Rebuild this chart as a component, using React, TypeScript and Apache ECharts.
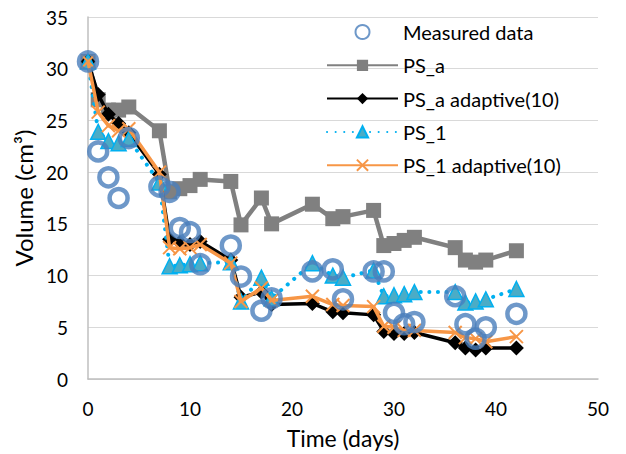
import React, { useEffect, useRef } from "react";
import * as echarts from "echarts";

const days = [0, 1, 2, 3, 4, 7, 8, 9, 10, 11, 14, 15, 17, 18, 22, 24, 25, 28, 29, 30, 31, 32, 36, 37, 38, 39, 42];
const measured = [30.7, 22.0, 19.5, 17.5, 23.3, 18.6, 18.1, 14.6, 14.2, 11.1, 12.9, 9.9, 6.6, 7.8, 10.4, 10.6, 7.7, 10.4, 10.4, 6.4, 5.3, 5.5, 8.0, 5.3, 3.9, 5.0, 6.3];
const psA = [30.7, 27.0, 26.0, 26.0, 26.3, 24.0, 18.1, 18.4, 18.7, 19.3, 19.1, 14.9, 17.5, 15.0, 16.9, 15.5, 15.7, 16.3, 12.9, 13.1, 13.4, 13.7, 12.7, 11.5, 11.3, 11.5, 12.4];
const psAAdaptive = [30.7, 27.5, 25.6, 24.7, 23.8, 19.8, 13.5, 13.2, 13.0, 13.3, 11.5, 7.9, 8.4, 7.2, 7.3, 6.5, 6.4, 6.2, 4.6, 4.4, 4.4, 4.5, 3.5, 3.0, 2.8, 3.0, 3.0];
const ps1 = [30.7, 23.9, 23.0, 22.8, 23.2, 19.0, 10.9, 11.0, 11.1, 11.2, 11.3, 7.5, 9.8, 7.8, 11.2, 10.0, 9.8, 10.5, 8.0, 8.1, 8.2, 8.4, 8.4, 7.4, 7.5, 7.7, 8.7];
const ps1Adaptive = [30.7, 25.8, 24.5, 24.0, 24.2, 20.0, 12.7, 12.6, 12.7, 13.0, 11.2, 7.5, 8.8, 7.6, 8.0, 7.2, 7.1, 7.0, 5.1, 5.0, 4.7, 4.7, 4.5, 4.0, 3.9, 3.6, 4.1];

const seriesNames = ["Measured data", "PS_a", "PS_a adaptive(10)", "PS_1", "PS_1 adaptive(10)"];
const xTicks = { min: 0, max: 50, interval: 10 };
const yTicks = { min: 0, max: 35, interval: 5 };

const pair = (vals: number[]) => days.map((d, i) => [d, vals[i]]);

const FONT = "Lato, 'Open Sans', sans-serif";

export default function App() {
  const ref = useRef<HTMLDivElement>(null);
  useEffect(() => {
    if (!ref.current) return;
    const chart = echarts.init(ref.current, null, { renderer: "svg" });
    chart.setOption({
      animation: false,
      backgroundColor: "#ffffff",
      textStyle: { fontFamily: FONT },
      grid: { left: 88, right: 28, top: 17, bottom: 74, containLabel: false },
      legend: {
        orient: "vertical",
        left: 321,
        top: 17,
        itemWidth: 71,
        itemHeight: 14,
        itemGap: 13.3,
        textStyle: { fontSize: 20, color: "#000", fontFamily: FONT },
        data: seriesNames,
      },
      xAxis: {
        type: "value",
        min: xTicks.min,
        max: xTicks.max,
        interval: xTicks.interval,
        name: "Time (days)",
        nameLocation: "middle",
        nameGap: 47,
        nameTextStyle: { fontSize: 23, color: "#000", fontFamily: FONT },
        axisLine: { show: true, lineStyle: { color: "#bfbfbf", width: 1.5 } },
        axisTick: { show: false },
        splitLine: { show: false },
        axisLabel: { fontSize: 19, color: "#000", margin: 20, fontFamily: FONT },
      },
      yAxis: {
        type: "value",
        min: yTicks.min,
        max: yTicks.max,
        interval: yTicks.interval,
        name: "Volume (cm³)",
        nameLocation: "middle",
        nameGap: 51,
        nameRotate: 90,
        nameTextStyle: { fontSize: 24, color: "#000", fontFamily: FONT },
        axisLine: { show: true, lineStyle: { color: "#bfbfbf", width: 1.5 } },
        axisTick: { show: false },
        splitLine: { show: true, lineStyle: { color: "#d9d9d9", width: 1.2 } },
        axisLabel: { fontSize: 19, color: "#000", margin: 20, fontFamily: FONT },
      },
      series: [
        {
          name: "PS_a",
          type: "line",
          data: pair(psA),
          symbol: "rect",
          symbolSize: 15,
          z: 2,
          lineStyle: { color: "#808080", width: 4.5 },
          itemStyle: { color: "#808080" },
        },
        {
          name: "PS_a adaptive(10)",
          type: "line",
          data: pair(psAAdaptive),
          symbol: "diamond",
          symbolSize: 15,
          z: 3,
          lineStyle: { color: "#000000", width: 3.5 },
          itemStyle: { color: "#000000" },
        },
        {
          name: "PS_1",
          type: "line",
          data: pair(ps1),
          symbol: "triangle",
          symbolSize: 15,
          z: 4,
          lineStyle: { color: "#00b0f0", width: 4, type: [0.1, 8.5], cap: "round" },
          itemStyle: { color: "#4bacc6", borderColor: "#00b0f0", borderWidth: 1.5 },
        },
        {
          name: "PS_1 adaptive(10)",
          type: "line",
          data: pair(ps1Adaptive),
          symbol: "path://M0,0L10,10M10,0L0,10",
          symbolSize: 13,
          z: 5,
          lineStyle: { color: "#f79646", width: 3.5 },
          itemStyle: { color: "#f79646", borderColor: "#f79646", borderWidth: 2 },
        },
        {
          name: "Measured data",
          type: "scatter",
          data: pair(measured),
          symbol: "circle",
          symbolSize: 18,
          z: 6,
          itemStyle: { color: "rgba(255,255,255,0)", borderColor: "#4a7ebb", borderWidth: 4.5 },
        },
      ],
    });
    return () => chart.dispose();
  }, []);
  return <div ref={ref} style={{ width: 626, height: 454, position: "absolute", left: 0, top: 0 }} />;
}
